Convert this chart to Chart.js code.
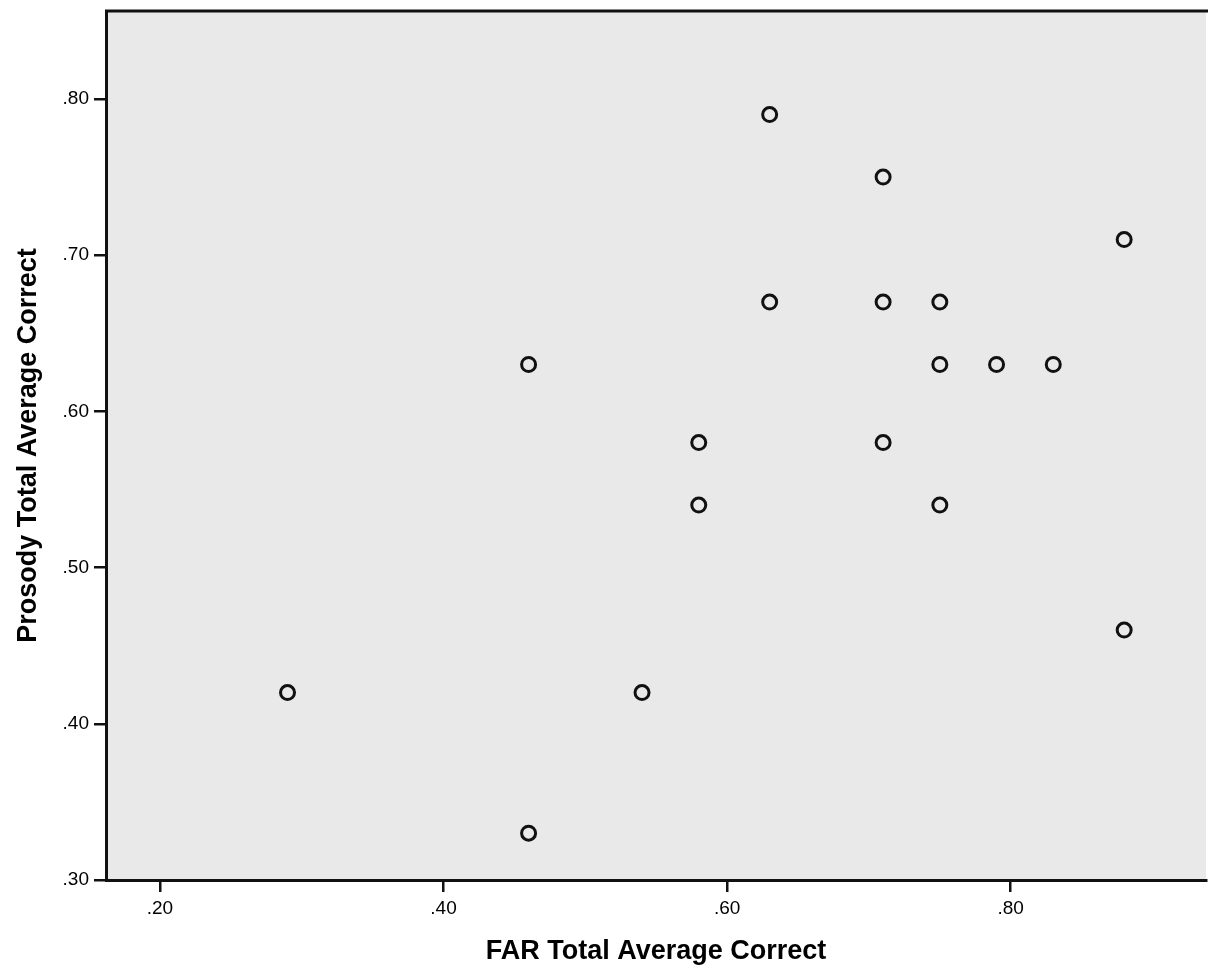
<!DOCTYPE html>
<html>
<head>
<meta charset="utf-8">
<script src="https://cdn.jsdelivr.net/npm/chart.js@4"></script>
<style>
  html, body { margin: 0; padding: 0; background: #fff; overflow: hidden; }
  canvas { display: block; }
</style>
</head>
<body>
<canvas id="scatter" width="1216" height="972"></canvas>
<script>
// FAR vs Prosody total average correct
const farCorrect = [0.29, 0.46, 0.46, 0.54, 0.58, 0.58, 0.63, 0.63, 0.71, 0.71, 0.71, 0.75, 0.75, 0.75, 0.79, 0.83, 0.88, 0.88];
const prosodyCorrect = [0.42, 0.63, 0.33, 0.42, 0.58, 0.54, 0.79, 0.67, 0.75, 0.67, 0.58, 0.67, 0.63, 0.54, 0.63, 0.63, 0.71, 0.46];
const xTicks = [0.2, 0.4, 0.6, 0.8];
const yTicks = [0.3, 0.4, 0.5, 0.6, 0.7, 0.8];

const fmt = v => v.toFixed(2).replace(/^0/, '');

const plotBg = {
    id: 'plotBg',
    beforeDraw(chart) {
        const {ctx, chartArea: a} = chart;
        ctx.save();
        ctx.fillStyle = '#e9e9e9';
        ctx.fillRect(a.left, a.top, a.right - a.left, a.bottom - a.top);
        ctx.restore();
    },
    afterDraw(chart) {
        const {ctx, chartArea: a} = chart;
        ctx.save();
        ctx.strokeStyle = '#111';
        ctx.lineWidth = 3;
        ctx.beginPath();
        ctx.moveTo(a.left - 1, a.top);
        ctx.lineTo(a.right + 2, a.top);
        ctx.stroke();
        ctx.restore();
    }
};

// scale padding for edge labels is not wanted here
const noPad = () => ({left: 0, top: 0, right: 0, bottom: 0});

Chart.defaults.font.family = '"Liberation Sans", Arial, sans-serif';
Chart.defaults.color = '#000';

const ctx = document.getElementById('scatter').getContext('2d');
const myChart = new Chart(ctx, {
    type: 'scatter',
    data: {
        datasets: [{
            data: farCorrect.map((x, i) => ({x: x, y: prosodyCorrect[i]})),
            pointRadius: 7,
            pointHoverRadius: 7,
            pointBorderWidth: 3,
            borderColor: '#111',
            backgroundColor: 'rgba(0,0,0,0)'
        }]
    },
    options: {
        responsive: false,
        animation: false,
        layout: { padding: { top: 11, right: 2, left: 0, bottom: 0 } },
        plugins: { legend: { display: false }, tooltip: { enabled: false } },
        scales: {
            x: {
                type: 'linear',
                min: 0.162,
                max: 0.9377,
                afterBuildTicks: s => { s.ticks = xTicks.map(v => ({value: v})); },
                afterFit: s => { s.height = 92; s.paddingLeft = 0; s.paddingRight = 0; s.getPadding = noPad; },
                grid: { drawOnChartArea: false, drawTicks: true, tickLength: 12, color: '#111', lineWidth: 2.5 },
                border: { display: true, color: '#111', width: 3 },
                ticks: { callback: v => fmt(v), font: { size: 19 }, padding: 5, maxRotation: 0 },
                title: {
                    display: true,
                    text: 'FAR Total Average Correct',
                    font: { size: 27, weight: 'bold' },
                    padding: { top: 4, bottom: 4 }
                }
            },
            y: {
                type: 'linear',
                min: 0.3,
                max: 0.8563,
                afterBuildTicks: s => { s.ticks = yTicks.map(v => ({value: v})); },
                afterFit: s => { s.width = 106; s.paddingTop = 0; s.paddingBottom = 0; s.getPadding = noPad; },
                grid: { drawOnChartArea: false, drawTicks: true, tickLength: 12, color: '#111', lineWidth: 2.5 },
                border: { display: true, color: '#111', width: 3 },
                ticks: { callback: v => fmt(v), font: { size: 19 }, padding: 5 },
                title: {
                    display: true,
                    text: 'Prosody Total Average Correct',
                    font: { size: 27, weight: 'bold' },
                    padding: { top: 12, bottom: 12 }
                }
            }
        }
    },
    plugins: [plotBg]
});
</script>
</body>
</html>
